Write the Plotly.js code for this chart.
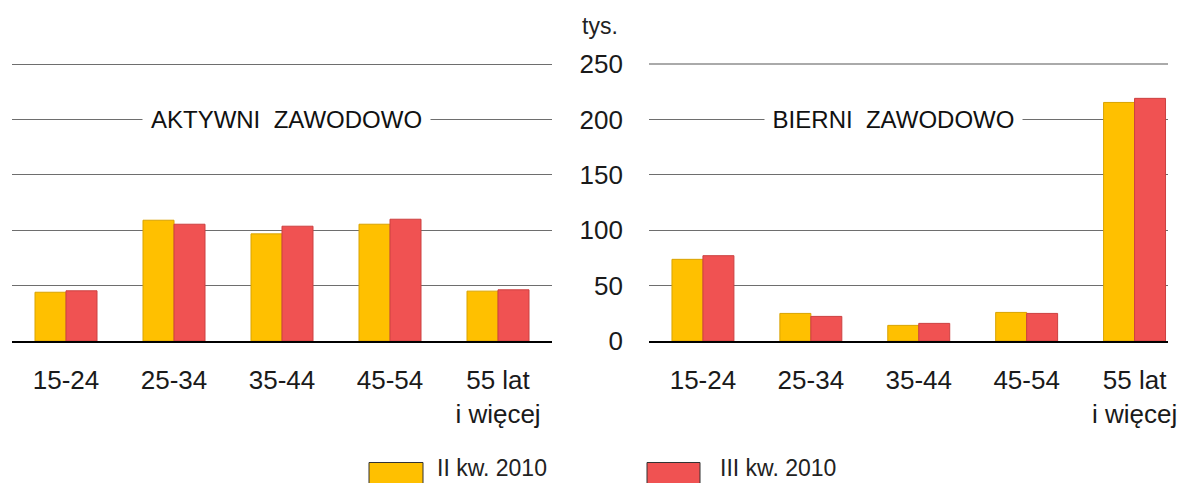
<!DOCTYPE html>
<html><head><meta charset="utf-8">
<script src="https://cdn.plot.ly/plotly-3.0.1.min.js"></script>
<style>body{margin:0;padding:0;background:#fff}#chart{width:1178px;height:483px}</style>
</head><body><div id="chart"></div>
<script>
const categories = ['15-24', '25-34', '35-44', '45-54', '55 lat<br>i więcej'];
const seriesNames = ['II kw. 2010', 'III kw. 2010'];
const activeQ2 = [44, 109, 96.7, 105.4, 45];
const activeQ3 = [45.3, 105.4, 103.6, 109.9, 46.2];
const passiveQ2 = [73.7, 24.9, 14.1, 25.8, 215.3];
const passiveQ3 = [77, 22.2, 15.9, 24.9, 219];
const yTicks = [0, 50, 100, 150, 200, 250];
const panelTitles = ['AKTYWNI  ZAWODOWO', 'BIERNI  ZAWODOWO'];
const unitLabel = 'tys.';

const fills = ['#FFC000', '#F05252'];
const lines = ['#D9A300', '#CC4040'];
const font = 'Liberation Sans, Arial, sans-serif';

function bar(y, i, xa, ya) {
  return {type:'bar', x:categories, y:y, name:seriesNames[i], xaxis:xa, yaxis:ya,
    marker:{color:fills[i], line:{color:lines[i], width:1}}, showlegend:false, hoverinfo:'skip'};
}
const data = [
  bar(activeQ2,0,'x','y'), bar(activeQ3,1,'x','y'),
  bar(passiveQ2,0,'x2','y2'), bar(passiveQ3,1,'x2','y2')
];

const yDom = [1-341/483, 1-(341-255*1.108)/483];
const xCommon = {type:'category', showline:true, linecolor:'#000', linewidth:2, ticks:'', showgrid:false,
  tickfont:{family:font, size:26, color:'#1a1a1a'}, ticklabelstandoff:15, fixedrange:true};
const yCommon = {range:[0,255], tickvals:yTicks, showgrid:true, gridcolor:'#6e6e6e', gridwidth:1,
  zeroline:false, showline:false, ticks:'', tickfont:{family:font, size:26, color:'#1a1a1a'}, domain:yDom};

const layout = {
  width:1178, height:483, margin:{l:0,r:0,t:0,b:0}, paper_bgcolor:'#fff', plot_bgcolor:'#fff',
  barmode:'group', bargap:0.426, bargroupgap:0, showlegend:false,
  xaxis:Object.assign({}, xCommon, {domain:[12/1178, 552/1178], range:[-0.5,4.5], anchor:'y'}),
  xaxis2:Object.assign({}, xCommon, {domain:[649/1178, 1168/1178], range:[-0.5,4.31], anchor:'y2'}),
  yaxis:Object.assign({}, yCommon, {anchor:'x', showticklabels:false}),
  yaxis2:Object.assign({}, yCommon, {anchor:'x2', showticklabels:true, ticklabelstandoff:25}),
  annotations:[
    {xref:'x', yref:'y', x:2.046, y:200, text:panelTitles[0], showarrow:false, bgcolor:'#fff',
      borderpad:0, xanchor:'center', yanchor:'middle', font:{family:font, size:24, color:'#111'},
      width:287, height:28},
    {xref:'x2', yref:'y2', x:1.766, y:200, text:panelTitles[1], showarrow:false, bgcolor:'#fff',
      borderpad:0, xanchor:'center', yanchor:'middle', font:{family:font, size:24, color:'#111'},
      width:257, height:28},
    {xref:'paper', yref:'paper', x:600/1178, y:1-26/483, text:unitLabel, showarrow:false,
      xanchor:'center', yanchor:'middle', font:{family:font, size:23, color:'#222'}},
    {xref:'paper', yref:'paper', x:435/1178, y:0, text:seriesNames[0], showarrow:false,
      xanchor:'left', yanchor:'bottom', font:{family:font, size:23, color:'#222'}},
    {xref:'paper', yref:'paper', x:718/1178, y:0, text:seriesNames[1], showarrow:false,
      xanchor:'left', yanchor:'bottom', font:{family:font, size:23, color:'#222'}}
  ],
  shapes:[
    {type:'line', xref:'x2 domain', yref:'y2', x0:0, x1:1, y0:250, y1:250, line:{color:'#aaaaaa', width:2}, layer:'above'},
    {type:'rect', xref:'paper', yref:'paper', x0:369/1178, x1:423/1178, y0:1-490/483, y1:1-462.5/483,
      fillcolor:fills[0], line:{color:'#333', width:1}},
    {type:'rect', xref:'paper', yref:'paper', x0:647/1178, x1:700/1178, y0:1-490/483, y1:1-462.5/483,
      fillcolor:fills[1], line:{color:'#333', width:1}}
  ]
};
Plotly.newPlot('chart', data, layout, {staticPlot:true, displayModeBar:false});
</script></body></html>
